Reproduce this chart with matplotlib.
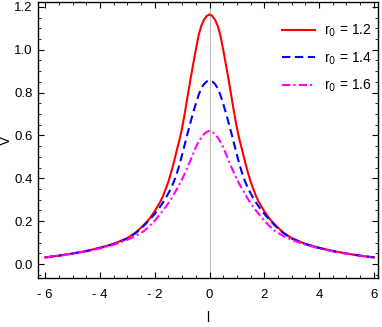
import numpy as np
import matplotlib
matplotlib.use("Agg")
import matplotlib.pyplot as plt
from matplotlib.ticker import MultipleLocator

plt.rcParams['font.family'] = ['Liberation Sans Narrow', 'Liberation Sans', 'DejaVu Sans']

# values, for l >= 0 (curves are symmetric in l)
l_half = [0.0, 0.1, 0.2, 0.3, 0.4, 0.5, 0.6, 0.7, 0.8, 0.9, 1.0, 1.1, 1.2, 1.3, 1.4, 1.5, 1.6,
          1.7, 1.8, 2.0, 2.2, 2.4, 2.7, 3.0, 3.5, 4.0, 4.5, 5.0, 5.5, 6.0]
v_12 = [1.165, 1.158, 1.140, 1.112, 1.065, 1.000, 0.930, 0.858, 0.782, 0.705, 0.635, 0.577,
        0.528, 0.475, 0.428, 0.385, 0.350, 0.316, 0.290, 0.246, 0.210, 0.182, 0.146, 0.121,
        0.094, 0.076, 0.061, 0.049, 0.039, 0.031]
v_14 = [0.857, 0.852, 0.840, 0.820, 0.788, 0.748, 0.705, 0.658, 0.610, 0.560, 0.510, 0.462,
        0.420, 0.385, 0.355, 0.330, 0.308, 0.287, 0.268, 0.234, 0.205, 0.178, 0.144, 0.119,
        0.093, 0.075, 0.060, 0.049, 0.039, 0.031]
v_16 = [0.621, 0.617, 0.606, 0.590, 0.570, 0.545, 0.514, 0.483, 0.452, 0.423, 0.396, 0.371,
        0.348, 0.326, 0.304, 0.284, 0.266, 0.249, 0.233, 0.202, 0.176, 0.153, 0.130, 0.113,
        0.090, 0.073, 0.059, 0.048, 0.038, 0.030]

labels = ['r$_0$ = 1.2', 'r$_0$ = 1.4', 'r$_0$ = 1.6']
xticks = [-6, -4, -2, 0, 2, 4, 6]
xticklabels = ['- 6', '- 4', '- 2', '0', '2', '4', '6']
yticks = [0.0, 0.2, 0.4, 0.6, 0.8, 1.0, 1.2]


def mirror(a, sign=1):
    a = np.asarray(a, dtype=float)
    return np.concatenate([sign * a[:0:-1], a])


l = mirror(l_half, -1)

fig = plt.figure(figsize=(3.82, 3.27), dpi=100)
ax = fig.add_axes([0.0995, 0.15, 0.89, 0.844])

ax.axvline(0, color='#b8b8b8', lw=0.8, zorder=0)
ax.plot(l, mirror(v_12), color='#ff0000', lw=1.5, label=labels[0])
ax.plot(l, mirror(v_14), color='#0000ff', lw=1.5, dashes=(4, 2.2), label=labels[1])
ax.plot(l, mirror(v_16), color='#ff00ff', lw=1.5, dashes=(4, 1.5, 1, 1.5), label=labels[2])

ax.set_xlim(-6.26, 6.15)
ax.set_ylim(-0.065, 1.223)
ax.set_xticks(xticks)
ax.set_xticklabels(xticklabels)
ax.set_yticks(yticks)
ax.set_yticklabels(['%.1f' % v for v in yticks])
ax.xaxis.set_minor_locator(MultipleLocator(0.5))
ax.yaxis.set_minor_locator(MultipleLocator(0.05))
ax.tick_params(which='both', direction='in', top=True, right=True, labelsize=9.5)
ax.tick_params(axis='x', pad=8)
ax.tick_params(axis='y', pad=4)
ax.tick_params(which='major', length=4, width=0.8)
ax.tick_params(which='minor', length=2.2, width=0.6)
for s in ax.spines.values():
    s.set_linewidth(1.0)

ax.set_xlabel('l', fontsize=10)
ax.xaxis.set_label_coords(0.5, -0.118)
ax.set_ylabel('V', fontsize=10)
ax.yaxis.set_label_coords(-0.074, 0.5)

ax.legend(loc='upper right', bbox_to_anchor=(1.023, 0.975), frameon=False, fontsize=10,
          handlelength=2.4, labelspacing=0.8, borderaxespad=0.6, handletextpad=0.6)

fig.savefig('out.png', dpi=100)
